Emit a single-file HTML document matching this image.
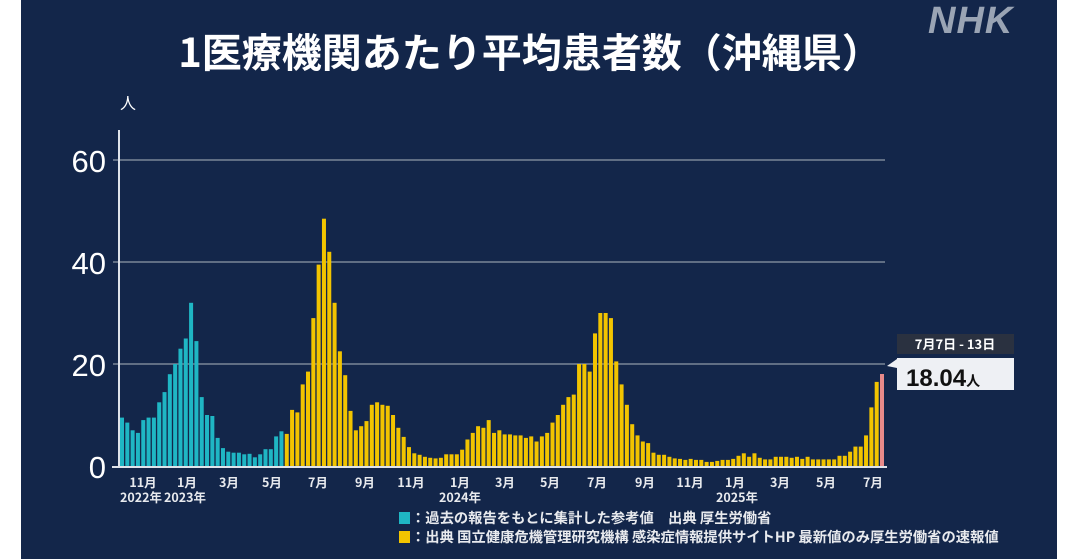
<!DOCTYPE html>
<html><head><meta charset="utf-8"><style>
html,body{margin:0;padding:0;background:#fff;}
svg{display:block;font-family:"Liberation Sans","Noto Sans CJK JP",sans-serif;}
</style></head><body>
<svg id="s" width="1079" height="559" xmlns="http://www.w3.org/2000/svg">
<rect x="21" y="0" width="1036" height="559" fill="#13264a"/>
<text x="928" y="33" font-size="38" font-weight="bold" font-style="italic" fill="#9aa4b4" letter-spacing="1">NHK</text>
<text x="530" y="67" font-size="40" font-weight="bold" fill="#fff" text-anchor="middle" font-family="'Noto Sans CJK JP',sans-serif">1医療機関あたり平均患者数（沖縄県）</text>
<text x="120" y="109" font-size="16" fill="#fff" font-family="'Noto Sans CJK JP',sans-serif">人</text>
<g stroke="#7b8597" stroke-width="1.5">
<line x1="113" y1="160" x2="885" y2="160"/>
<line x1="113" y1="262" x2="885" y2="262"/>
<line x1="113" y1="364" x2="885" y2="364"/>
</g>
<g font-size="31" fill="#fff" text-anchor="end">
<text x="106" y="172">60</text><text x="106" y="274">40</text><text x="106" y="376">20</text><text x="106" y="478">0</text>
</g>
<g id="bars"></g>
<line x1="119" y1="130" x2="119" y2="467" stroke="#dfe3ea" stroke-width="2"/>
<line x1="112" y1="467" x2="887" y2="467" stroke="#dfe3ea" stroke-width="2"/>
<g font-size="12.5" font-weight="bold" fill="#e8eaee" text-anchor="middle" font-family="'Noto Sans CJK JP',sans-serif">
<text x="143" y="487">11月</text><text x="187" y="487">1月</text><text x="229" y="487">3月</text><text x="272" y="487">5月</text><text x="318" y="487">7月</text><text x="365" y="487">9月</text><text x="411" y="487">11月</text><text x="460" y="487">1月</text><text x="505" y="487">3月</text><text x="550" y="487">5月</text><text x="597" y="487">7月</text><text x="645" y="487">9月</text><text x="690" y="487">11月</text><text x="735" y="487">1月</text><text x="780" y="487">3月</text><text x="826" y="487">5月</text><text x="873" y="487">7月</text>
<text x="141" y="502">2022年</text><text x="185" y="502">2023年</text><text x="460" y="502">2024年</text><text x="737" y="502">2025年</text>
</g>
<rect x="399" y="512" width="11" height="12" fill="#1fb6c4"/>
<rect x="399" y="531" width="11" height="12" fill="#f2c400"/>
<g font-size="14.3" font-weight="bold" fill="#e8eaee" font-family="'Noto Sans CJK JP',sans-serif">
<text x="411" y="523">：過去の報告をもとに集計した参考値　出典 厚生労働省</text>
<text x="411" y="542">：出典 国立健康危機管理研究機構 感染症情報提供サイトHP 最新値のみ厚生労働省の速報値</text>
</g>
<rect x="897" y="334" width="117" height="20" fill="#2a3140"/>
<text x="955" y="349" font-size="13" font-weight="bold" fill="#fff" text-anchor="middle" font-family="'Noto Sans CJK JP',sans-serif">7月7日 - 13日</text>
<polygon points="887,366 897,359 897,368" fill="#eef0f4"/>
<rect x="897" y="358" width="117" height="32" fill="#eef0f4"/>
<text x="906" y="386" font-size="24" font-weight="bold" fill="#111">18.04<tspan font-size="14" font-family="'Noto Sans CJK JP',sans-serif">人</tspan></text>
</svg>
<script>
var c=[9.5,8.5,7,6.5,9,9.5,9.5,12.5,14.5,18,20,23,25,32,24.5,13.5,10,9.8,5.5,3.5,2.8,2.6,2.6,2.3,2.4,1.7,2.3,3.3,3.3,5.8,6.8];
var y=[6.3,11,10.5,16,18.5,29,39.5,48.5,42,32,22.5,17.8,10.8,7,7.8,8.8,12,12.5,12,11.8,10,7.5,5.7,3.7,2.5,2.2,1.8,1.6,1.5,1.6,2.3,2.3,2.3,3.2,5.2,6.5,7.8,7.5,9,6.5,7,6.2,6.2,6,6,5.5,5.8,4.8,5.8,6.5,8.5,10,12,13.5,14,20,20,18.5,26,30,30,29,20.5,16,12,8.2,6,4.8,4.5,2.6,2.2,2.2,1.8,1.5,1.4,1.2,1.4,1.2,1.2,0.8,0.8,1.0,1.2,1.2,1.4,2.0,2.5,1.8,2.5,1.6,1.3,1.3,1.8,1.8,1.8,1.6,1.8,1.4,1.8,1.3,1.3,1.3,1.3,1.3,2,2,2.8,3.8,3.8,6,11.5,16.5];
var all=c.map(v=>[v,'#1fb6c4']).concat(y.map(v=>[v,'#f2c400'])).concat([[18.04,'#e88a8a']]);
var n=all.length,s=(882-122)/(n-1),h='';
all.forEach(function(d,i){var x=122+i*s,hh=d[0]*5.1;h+='<rect x="'+(x-2).toFixed(2)+'" y="'+(466-hh).toFixed(1)+'" width="4" height="'+hh.toFixed(1)+'" fill="'+d[1]+'"/>';});
document.getElementById('bars').innerHTML=h;
</script>
</body></html>
